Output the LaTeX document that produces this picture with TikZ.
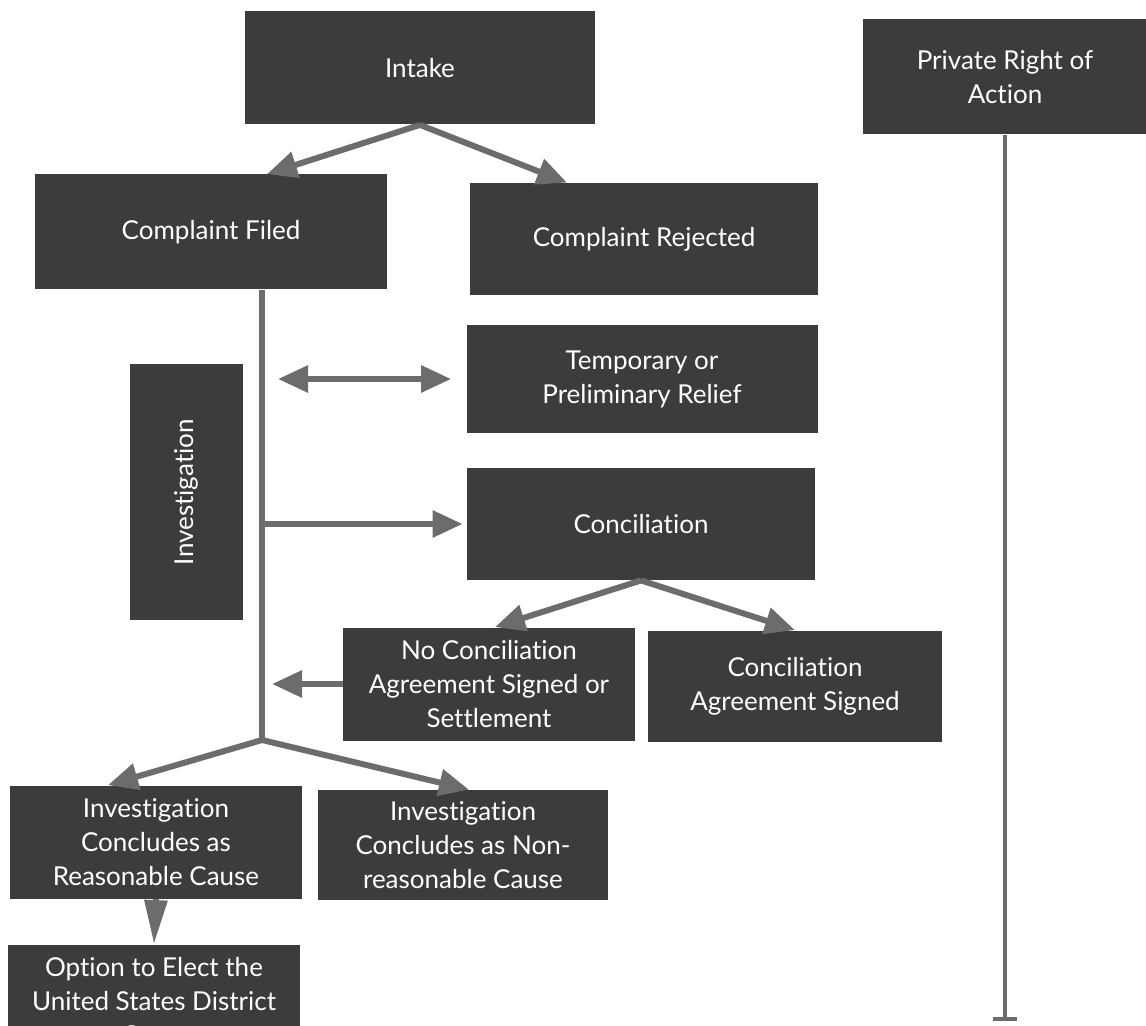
\documentclass[tikz,border=0pt]{standalone}
\usepackage{fontspec}
\setmainfont{Lato}[Ligatures=NoCommon]
\usetikzlibrary{arrows.meta, positioning, calc}
\definecolor{boxgray}{HTML}{3C3C3C}
\definecolor{lnkgray}{HTML}{6C6C6C}
\tikzset{
  box/.style={fill=boxgray, text=white, align=center, inner sep=0pt, minimum width=#1, minimum height=56.5pt, font=\fontsize{13}{17}\selectfont},
  box/.default=175pt,
  arr/.style={-{Triangle[length=15pt, width=13pt]}, line width=3pt, draw=lnkgray},
  darr/.style={{Triangle[length=15pt, width=13pt]}-{Triangle[length=15pt, width=13pt]}, line width=3pt, draw=lnkgray},
  trunk/.style={line width=3pt, draw=lnkgray},
}

\begin{document}
\begin{tikzpicture}[x=0.5pt, y=-0.5pt]
    \useasboundingbox (0,0) rectangle (1146,1026);
    \clip (0,0) rectangle (1146,1026);
    \node[box] (intake) at (420,68) {Intake};
    \node[box=142pt, minimum height=57.5pt] (private) at (1005,77) {Private Right of\\Action};
    \node[box=176pt, minimum height=57.5pt] (filed) at (211,232) {Complaint Filed};
    \node[box=174pt, minimum height=56pt] (rejected) at (644,239) {Complaint Rejected};
    \node[box=175.5pt, minimum height=54pt] (relief) at (642,379) {Temporary or\\Preliminary Relief};
    \node[box=127.5pt, rotate=90] (invest) at (186,492) {Investigation};
    \node[box=174pt, minimum height=56pt] (concil) at (641,524) {Conciliation};
    \node[box=146pt] (nosign) at (489,684) {No Conciliation\\Agreement Signed or\\Settlement};
    \node[box=147pt, minimum height=55.5pt] (signed) at (795,686) {Conciliation\\Agreement Signed};
    \node[box=146pt] (reason) at (156,842) {Investigation\\Concludes as\\Reasonable Cause};
    \node[box=145pt, minimum height=55pt] (nonreason) at (463,845) {Investigation\\Concludes as Non-\\reasonable Cause};
    \node[box=146pt] (option) at (154,1001) {Option to Elect the\\United States District\\Court};
    % investigation trunk
    \coordinate (trunktop) at ([xshift=25.5pt]filed.south);
    \coordinate (fork) at (262,740);
    \coordinate (dbl) at (278,379);
    \coordinate (privend) at (1005,1021);
    \draw[arr] (intake.south) -- ([xshift=28pt]filed.north);
    \draw[arr] (intake.south) -- ([xshift=-38.5pt]rejected.north);
    \draw[trunk] (trunktop) -- (fork);
    \draw[darr] (dbl) -- ([xshift=-7.5pt]relief.west);
    \draw[arr] (trunktop |- concil.west) -- ([xshift=-2pt]concil.west);
    \draw[arr] (concil.south) -- ([xshift=3pt]nosign.north);
    \draw[arr] (concil.south) -- (signed.north);
    \draw[arr, shorten >=5pt] (nosign.west) -- (nosign.west -| trunktop);
    \draw[arr] (fork) -- ([xshift=-24pt]reason.north);
    \draw[arr] (fork) -- ([xshift=3pt]nonreason.north);
    \draw[-{Triangle[length=22pt, width=11pt]}, line width=3pt, draw=lnkgray] (reason.south) -- (option.north);
    \draw[-{Bar[width=12pt]}, line width=2pt, draw=lnkgray] (private.south) -- (privend);
  \end{tikzpicture}
\end{document}
